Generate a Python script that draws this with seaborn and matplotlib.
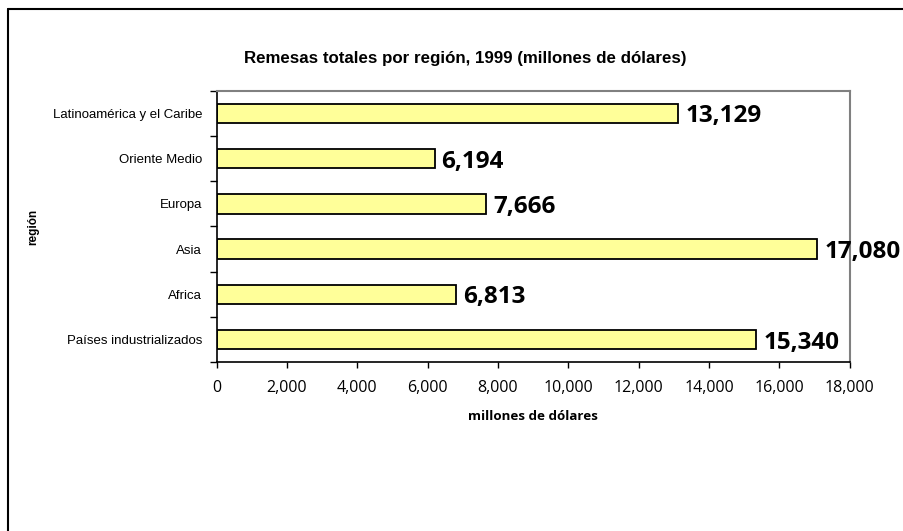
import numpy as np
import pandas as pd
import seaborn as sns
import matplotlib.pyplot as plt
from matplotlib.lines import Line2D
from matplotlib.ticker import FuncFormatter, FixedLocator

regions = ['Latinoamérica y el Caribe', 'Oriente Medio', 'Europa', 'Asia',
           'Africa', 'Países industrializados']
remesas = [13129, 6194, 7666, 17080, 6813, 15340]

df = pd.DataFrame({'region': regions, 'remesas': remesas})

sns.set_style('white')
plt.rcParams['font.family'] = ['Liberation Sans', 'DejaVu Sans']
plt.rcParams.update({'text.color': 'black', 'axes.labelcolor': 'black',
                     'xtick.color': 'black', 'ytick.color': 'black'})

fig = plt.figure(figsize=(9.04, 5.31), dpi=100)
ax = fig.add_axes([0.2397, 0.318, 0.7003, 0.511])

sns.barplot(data=df, x='remesas', y='region', orient='h', order=regions,
            color='#FFFF99', saturation=1, edgecolor='black', linewidth=1.3,
            width=0.43, ax=ax)

ax.set_xlim(0, 18000)
ax.set_ylim(5.5, -0.5)
ax.set_xticks(np.arange(0, 18001, 2000))
ax.xaxis.set_major_formatter(FuncFormatter(lambda v, p: f'{int(v):,}'))
for lab in ax.get_xticklabels():
    lab.set_family('Open Sans')
    lab.set_fontsize(11.5)
ax.tick_params(axis='x', direction='out', length=4, width=1, pad=9, color='black', bottom=True)

ax.tick_params(axis='y', which='major', length=0, pad=10.5, labelsize=9.5)
ax.yaxis.set_minor_locator(FixedLocator(np.arange(-0.5, 6, 1)))
ax.tick_params(axis='y', which='minor', direction='out', length=5, width=1, color='black', left=True)

for s in ['top', 'right']:
    ax.spines[s].set_color('#808080')
    ax.spines[s].set_linewidth(1.5)
for s in ['left', 'bottom']:
    ax.spines[s].set_color('black')
    ax.spines[s].set_linewidth(1.2)

texts = ax.bar_label(ax.containers[0], labels=[f'{v:,}' for v in remesas], padding=5,
                     fontsize=17.5, fontweight='bold', family='Open Sans', color='black')
for t in texts:
    t.set_va('center_baseline')

fig.text(465 / 904, 1 - 58 / 531, 'Remesas totales por región, 1999 (millones de dólares)',
         fontsize=12.2, fontweight='bold', ha='center', va='center')
ax.set_xlabel('millones de dólares', fontsize=9.6, fontweight='bold',
              family='Open Sans', labelpad=10)
ax.set_ylabel('región', fontsize=8.5, fontweight='bold')
ax.yaxis.set_label_coords(-0.28, 0.5)

fig.add_artist(Line2D([8 / 904, 8 / 904], [0, 1 - 9 / 531], transform=fig.transFigure,
                      color='black', linewidth=1.5))
fig.add_artist(Line2D([8 / 904, 1], [1 - 9 / 531, 1 - 9 / 531], transform=fig.transFigure,
                      color='black', linewidth=1.5))

fig.savefig('out.png', dpi=100)
